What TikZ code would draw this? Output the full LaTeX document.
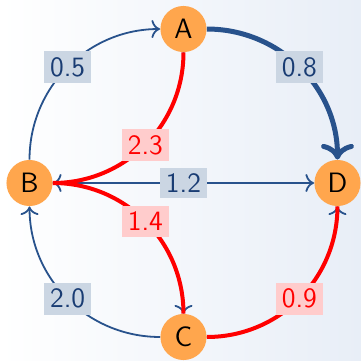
\documentclass[tikz,border=0pt]{standalone}
\usepackage{xcolor}
\usepackage{tikz}
\usetikzlibrary{arrows, arrows.meta, positioning, calc}

\definecolor{edgeblue}{RGB}{40,82,140}
\definecolor{inkblue}{RGB}{25,60,115}
\definecolor{tagblue}{RGB}{203,214,227}
\definecolor{pathred}{RGB}{255,0,0}
\definecolor{tagred}{RGB}{255,204,204}
\definecolor{vertexorange}{RGB}{255,166,77}
\definecolor{bgblue}{RGB}{232,238,247}

\begin{document}
\begin{tikzpicture}[
    font=\sffamily\fontsize{14}{16}\selectfont,
    vertex/.style={circle, fill=vertexorange, minimum size=0.81cm, inner sep=0pt},
    arc/.style={-{To[scale=1.2]}, draw=edgeblue, line width=0.9pt},
    heavy/.style={-{To[scale=1.1]}, draw=edgeblue, line width=2.5pt},
    route/.style={draw=pathred, line width=2pt},
    weight/.style={fill=tagblue, text=inkblue, inner sep=3pt},
    hotweight/.style={fill=tagred, text=pathred, inner sep=3pt}
]
    % Background
    \shade[left color=white, right color=bgblue] (-91.75pt,-89pt) rectangle (88.75pt,91.5pt);

    % Vertices
    \node[vertex] (A) at (0,2.706) {A};
    \node[vertex] (B) at (-2.706,0) {B};
    \node[vertex] (C) at (0,-2.706) {C};
    \node[vertex] (D) at (2.706,0) {D};

    % Plain edges
    \draw[arc] (B) to[bend left=45] node[weight] (wBA) {0.5} (A);
    \draw[heavy] (A) to[bend left=45] node[weight] (wAD) {0.8} (D);
    \draw[arc] (B) -- node[weight] (wBD) {1.2} (D);
    \draw[arc] (C) to[bend left=45] node[weight] (wCB) {2.0} (B);
    \draw[arc] (A) to[bend left=45] (B);
    \draw[arc] (B) to[bend left=45] (C);
    \draw[arc] (C) to[bend right=45] (D);

    % Shortest path A-B-C-D
    \draw[route] (A) to[bend left=45] node[hotweight] (wAB) {2.3} (B);
    \draw[route] (B) to[bend left=45] node[hotweight] (wBC) {1.4} (C);
    \draw[route] (C) to[bend right=45] node[hotweight] (wCD) {0.9} (D);
\end{tikzpicture}
\end{document}
